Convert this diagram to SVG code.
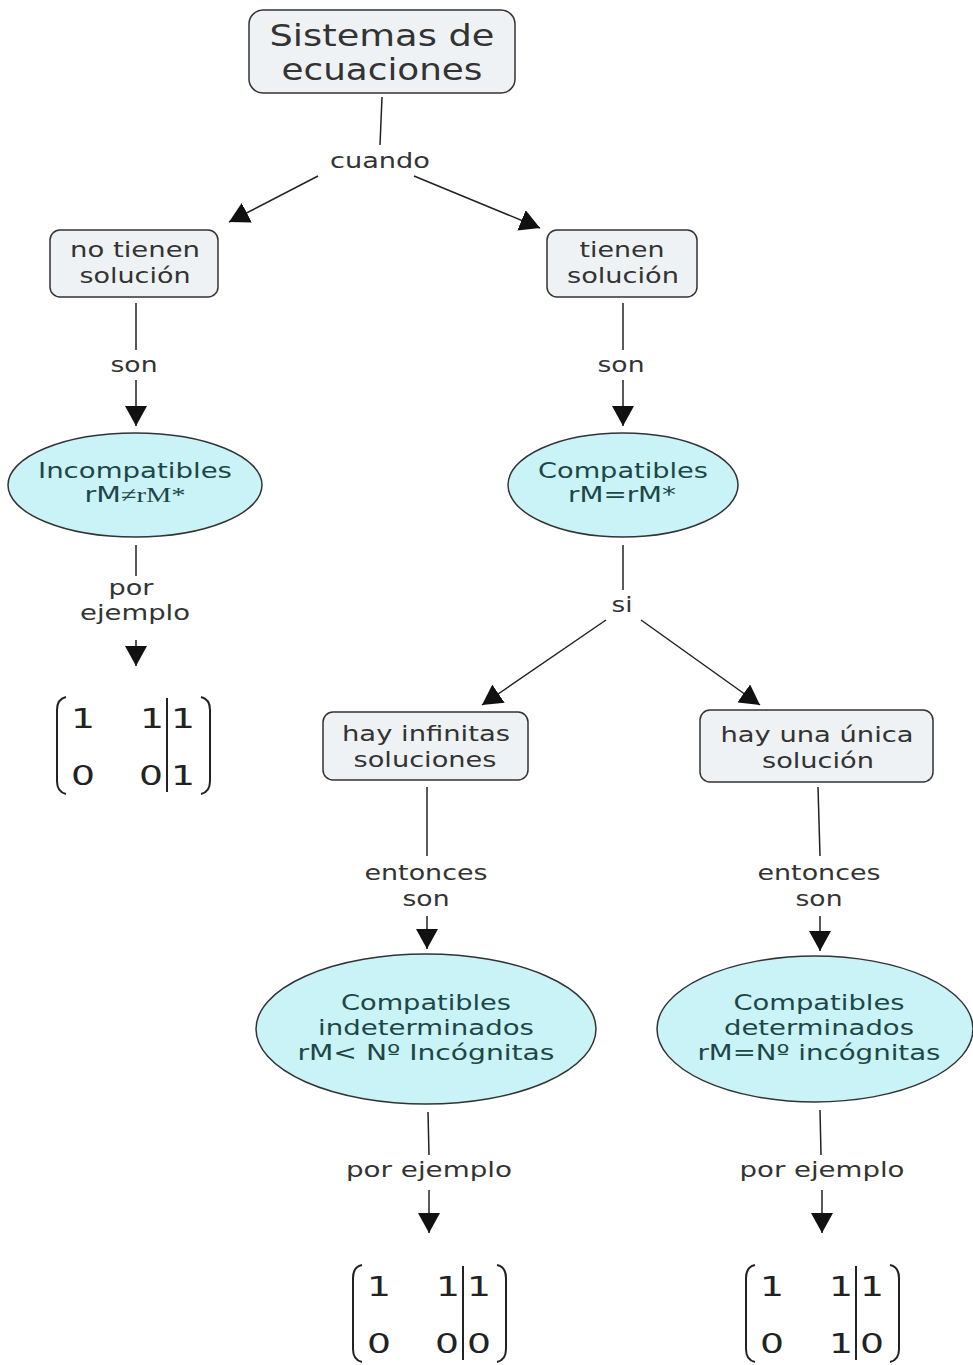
<svg xmlns="http://www.w3.org/2000/svg" width="973" height="1365" viewBox="0 0 973 1365">
<defs>
<style>
.box{fill:#eef2f4;stroke:#333;stroke-width:1.5}
.ell{fill:#c9f3f7;stroke:#333;stroke-width:1.5}
text{font-family:"DejaVu Sans",Verdana,sans-serif;text-anchor:middle}
.t{font-size:21px;fill:#333}
.te{font-size:21px;fill:#1e4646}
.big{font-size:30px;fill:#333}
.ser{font-family:"Liberation Serif","Times New Roman",serif}
.ln{stroke:#222;stroke-width:1.5;fill:none}
.m{font-size:27px;fill:#222}
.br{stroke:#222;stroke-width:2;fill:none}
</style>
<marker id="ahb" viewBox="0 0 10 10" refX="10" refY="5" markerWidth="20" markerHeight="22" markerUnits="userSpaceOnUse" orient="auto" preserveAspectRatio="none">
<path d="M0,0 L10,5 L0,10 z" fill="#111"/>
</marker>
<g id="mat">
<path class="br" d="M66,697 Q57,699 57,710 L57,781 Q57,792 66,794"/>
<path class="br" d="M201,697 Q210,699 210,710 L210,781 Q210,792 201,794"/>
<line class="br" x1="167" y1="698" x2="167" y2="792"/>
</g>
</defs>
<rect width="973" height="1365" fill="#fff"/>
<g id="connectors">
<line class="ln" x1="382" y1="97" x2="380" y2="145"/>
<text class="t" x="380" y="168" textLength="100" lengthAdjust="spacingAndGlyphs">cuando</text>
<line class="ln" x1="318" y1="176" x2="229" y2="222" marker-end="url(#ahb)"/>
<line class="ln" x1="414" y1="176" x2="540" y2="228" marker-end="url(#ahb)"/>
<line class="ln" x1="136" y1="303" x2="136" y2="350"/>
<text class="t" x="134" y="372" textLength="47" lengthAdjust="spacingAndGlyphs">son</text>
<line class="ln" x1="136" y1="380" x2="136" y2="426" marker-end="url(#ahb)"/>
<line class="ln" x1="623" y1="303" x2="623" y2="350"/>
<text class="t" x="621" y="372" textLength="47" lengthAdjust="spacingAndGlyphs">son</text>
<line class="ln" x1="623" y1="380" x2="623" y2="426" marker-end="url(#ahb)"/>
<line class="ln" x1="136" y1="545" x2="136" y2="576"/>
<text class="t" x="131" y="595" textLength="45" lengthAdjust="spacingAndGlyphs">por</text>
<text class="t" x="135" y="620" textLength="110" lengthAdjust="spacingAndGlyphs">ejemplo</text>
<line class="ln" x1="136" y1="640" x2="136" y2="666" marker-end="url(#ahb)"/>
<line class="ln" x1="623" y1="545" x2="623" y2="590"/>
<text class="t" x="622" y="612" textLength="21" lengthAdjust="spacingAndGlyphs">si</text>
<line class="ln" x1="606" y1="620" x2="482" y2="705" marker-end="url(#ahb)"/>
<line class="ln" x1="641" y1="620" x2="760" y2="705" marker-end="url(#ahb)"/>
<line class="ln" x1="427" y1="787" x2="427" y2="856"/>
<text class="t" x="426" y="880" textLength="123" lengthAdjust="spacingAndGlyphs">entonces</text>
<text class="t" x="426" y="906" textLength="47" lengthAdjust="spacingAndGlyphs">son</text>
<line class="ln" x1="427" y1="916" x2="427" y2="949" marker-end="url(#ahb)"/>
<line class="ln" x1="818" y1="787" x2="820" y2="856"/>
<text class="t" x="819" y="880" textLength="123" lengthAdjust="spacingAndGlyphs">entonces</text>
<text class="t" x="819" y="906" textLength="47" lengthAdjust="spacingAndGlyphs">son</text>
<line class="ln" x1="820" y1="916" x2="820" y2="951" marker-end="url(#ahb)"/>
<line class="ln" x1="428" y1="1112" x2="429" y2="1155"/>
<text class="t" x="429" y="1177" textLength="166" lengthAdjust="spacingAndGlyphs">por ejemplo</text>
<line class="ln" x1="429" y1="1190" x2="429" y2="1233" marker-end="url(#ahb)"/>
<line class="ln" x1="820" y1="1110" x2="821" y2="1155"/>
<text class="t" x="822" y="1177" textLength="165" lengthAdjust="spacingAndGlyphs">por ejemplo</text>
<line class="ln" x1="822" y1="1190" x2="822" y2="1233" marker-end="url(#ahb)"/>
</g>
<g id="n-sistemas">
<rect class="box" x="249" y="10" width="266" height="83" rx="14"/>
<text class="big" x="382" y="46" textLength="225" lengthAdjust="spacingAndGlyphs">Sistemas de</text>
<text class="big" x="382" y="80" textLength="201" lengthAdjust="spacingAndGlyphs">ecuaciones</text>
</g>
<g id="n-notienen">
<rect class="box" x="50" y="230" width="168" height="67" rx="10"/>
<text class="t" x="135" y="257" textLength="130" lengthAdjust="spacingAndGlyphs">no tienen</text>
<text class="t" x="135" y="283" textLength="111" lengthAdjust="spacingAndGlyphs">solución</text>
</g>
<g id="n-tienen">
<rect class="box" x="547" y="230" width="150" height="67" rx="10"/>
<text class="t" x="622" y="257" textLength="85" lengthAdjust="spacingAndGlyphs">tienen</text>
<text class="t" x="623" y="283" textLength="112" lengthAdjust="spacingAndGlyphs">solución</text>
</g>
<g id="n-incompatibles">
<ellipse class="ell" cx="135" cy="485" rx="127" ry="52"/>
<text class="te" x="135" y="478" textLength="194" lengthAdjust="spacingAndGlyphs">Incompatibles</text>
<text class="te" x="135" y="502" textLength="101" lengthAdjust="spacingAndGlyphs">rM<tspan class="ser">≠rM*</tspan></text>
</g>
<g id="n-compatibles">
<ellipse class="ell" cx="623" cy="485" rx="115" ry="52"/>
<text class="te" x="623" y="478" textLength="170" lengthAdjust="spacingAndGlyphs">Compatibles</text>
<text class="te" x="622" y="502" textLength="108" lengthAdjust="spacingAndGlyphs">rM=rM*</text>
</g>
<g id="n-infinitas">
<rect class="box" x="323" y="712" width="205" height="68" rx="10"/>
<text class="t" x="426" y="741" textLength="168" lengthAdjust="spacingAndGlyphs">hay infinitas</text>
<text class="t" x="425" y="767" textLength="143" lengthAdjust="spacingAndGlyphs">soluciones</text>
</g>
<g id="n-unica">
<rect class="box" x="700" y="710" width="233" height="72" rx="10"/>
<text class="t" x="817" y="742" textLength="193" lengthAdjust="spacingAndGlyphs">hay una única</text>
<text class="t" x="818" y="768" textLength="112" lengthAdjust="spacingAndGlyphs">solución</text>
</g>
<g id="n-indeterminados">
<ellipse class="ell" cx="426" cy="1029" rx="170" ry="75"/>
<text class="te" x="426" y="1010" textLength="170" lengthAdjust="spacingAndGlyphs">Compatibles</text>
<text class="te" x="426" y="1035" textLength="216" lengthAdjust="spacingAndGlyphs">indeterminados</text>
<text class="te" x="426" y="1060" textLength="257" lengthAdjust="spacingAndGlyphs">rM&lt; Nº Incógnitas</text>
</g>
<g id="n-determinados">
<ellipse class="ell" cx="815" cy="1029" rx="158" ry="73"/>
<text class="te" x="819" y="1010" textLength="171" lengthAdjust="spacingAndGlyphs">Compatibles</text>
<text class="te" x="819" y="1035" textLength="190" lengthAdjust="spacingAndGlyphs">determinados</text>
<text class="te" x="819" y="1060" textLength="243" lengthAdjust="spacingAndGlyphs">rM=Nº incógnitas</text>
</g>
<g id="n-matriz1">
<use href="#mat"/>
<text class="m" x="83" y="728" textLength="24" lengthAdjust="spacingAndGlyphs">1</text>
<text class="m" x="152" y="728" textLength="24" lengthAdjust="spacingAndGlyphs">1</text>
<text class="m" x="183" y="728" textLength="24" lengthAdjust="spacingAndGlyphs">1</text>
<text class="m" x="83" y="785" textLength="24" lengthAdjust="spacingAndGlyphs">0</text>
<text class="m" x="151" y="785" textLength="24" lengthAdjust="spacingAndGlyphs">0</text>
<text class="m" x="183" y="785" textLength="24" lengthAdjust="spacingAndGlyphs">1</text>
</g>
<g id="n-matriz2" transform="translate(296,568)">
<use href="#mat"/>
<text class="m" x="83" y="728" textLength="24" lengthAdjust="spacingAndGlyphs">1</text>
<text class="m" x="152" y="728" textLength="24" lengthAdjust="spacingAndGlyphs">1</text>
<text class="m" x="183" y="728" textLength="24" lengthAdjust="spacingAndGlyphs">1</text>
<text class="m" x="83" y="785" textLength="24" lengthAdjust="spacingAndGlyphs">0</text>
<text class="m" x="151" y="785" textLength="24" lengthAdjust="spacingAndGlyphs">0</text>
<text class="m" x="183" y="785" textLength="24" lengthAdjust="spacingAndGlyphs">0</text>
</g>
<g id="n-matriz3" transform="translate(689,568)">
<use href="#mat"/>
<text class="m" x="83" y="728" textLength="24" lengthAdjust="spacingAndGlyphs">1</text>
<text class="m" x="152" y="728" textLength="24" lengthAdjust="spacingAndGlyphs">1</text>
<text class="m" x="183" y="728" textLength="24" lengthAdjust="spacingAndGlyphs">1</text>
<text class="m" x="83" y="785" textLength="24" lengthAdjust="spacingAndGlyphs">0</text>
<text class="m" x="152" y="785" textLength="24" lengthAdjust="spacingAndGlyphs">1</text>
<text class="m" x="183" y="785" textLength="24" lengthAdjust="spacingAndGlyphs">0</text>
</g>
</svg>
